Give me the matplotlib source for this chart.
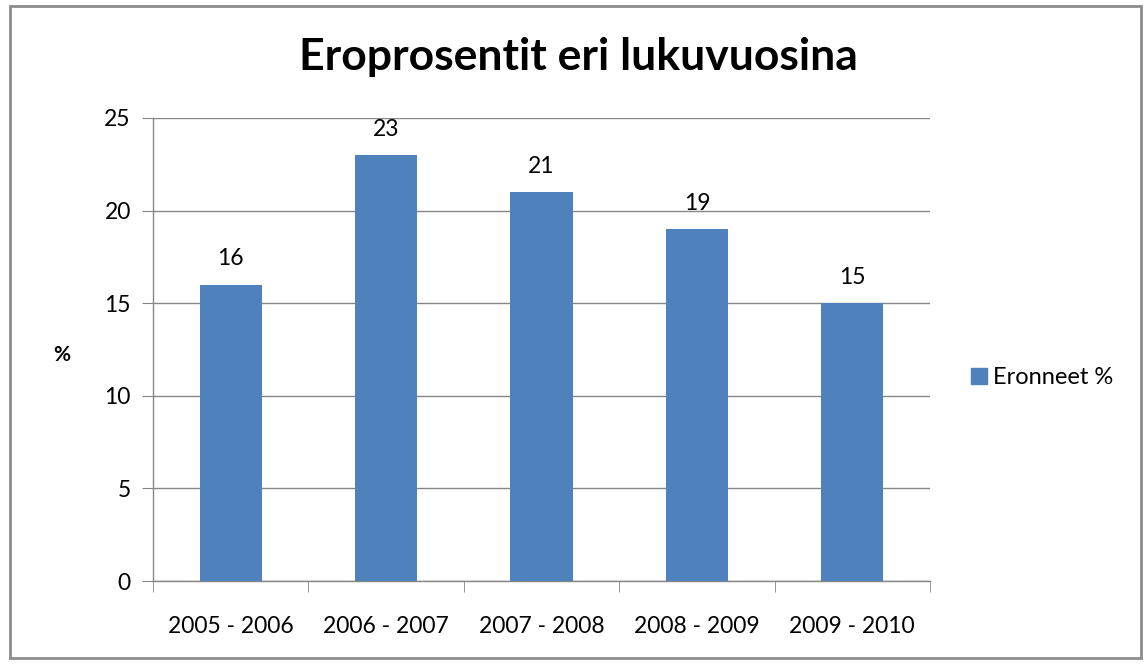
import matplotlib
matplotlib.use("Agg")
import matplotlib.pyplot as plt
from matplotlib.patches import Rectangle
from matplotlib.lines import Line2D

categories = ["2005 - 2006", "2006 - 2007", "2007 - 2008", "2008 - 2009", "2009 - 2010"]
values = [16, 23, 21, 19, 15]
series_name = "Eronneet %"
title = "Eroprosentit eri lukuvuosina"
yticks = [0, 5, 10, 15, 20, 25]

plt.rcParams['font.family'] = ['Lato', 'DejaVu Sans']
W, H = 1146, 664
fig = plt.figure(figsize=(W/100, H/100), dpi=100)
fig.patch.set_facecolor('white')

# outer border
fig.add_artist(Rectangle((10/W, 1 - 658/H), (1141-10)/W, (658-6)/H, transform=fig.transFigure,
                         fill=False, edgecolor='#8c8c8c', linewidth=2))

ax = fig.add_axes([153/W, 1 - 581/H, (930-153)/W, (581-118)/H])
grey = '#868686'
x = list(range(len(categories)))
ax.bar(x, values, width=0.4, color='#4F81BD', zorder=3)
ax.set_xlim(-0.5, len(categories) - 0.5)
ax.set_ylim(0, 25)
ax.set_yticks(yticks)
ax.yaxis.grid(True, color=grey, linewidth=1, zorder=0)
for s in ['top', 'right']:
    ax.spines[s].set_visible(False)
for s in ['left', 'bottom']:
    ax.spines[s].set_color(grey)
    ax.spines[s].set_linewidth(1)
ax.tick_params(axis='y', length=8, color=grey, labelsize=16.5, pad=8)
ax.set_xticks(x)
ax.set_xticklabels(categories)
ax.tick_params(axis='x', length=0, labelsize=16.5, pad=25)
ax.set_xticks([i - 0.5 for i in range(len(categories) + 1)], minor=True)
ax.tick_params(axis='x', which='minor', length=8, color=grey)
for i, v in enumerate(values):
    ax.text(i, v + 1.4, str(v), ha='center', va='center', fontsize=16.5)

fig.text(578/W, 1 - 57/H, title, ha='center', va='center', fontsize=32, fontweight='bold')
fig.text(62/W, 1 - 355/H, '%', ha='center', va='center', fontsize=15, fontweight='bold')

handle = Line2D([], [], marker='s', linestyle='none', markersize=11, color='#4F81BD')
fig.legend([handle], [series_name], loc='center left', bbox_to_anchor=(958/W, 1 - 378/H),
           frameon=False, fontsize=17, handletextpad=0.1, borderaxespad=0, handlelength=1)

fig.savefig('out.png', dpi=100)
